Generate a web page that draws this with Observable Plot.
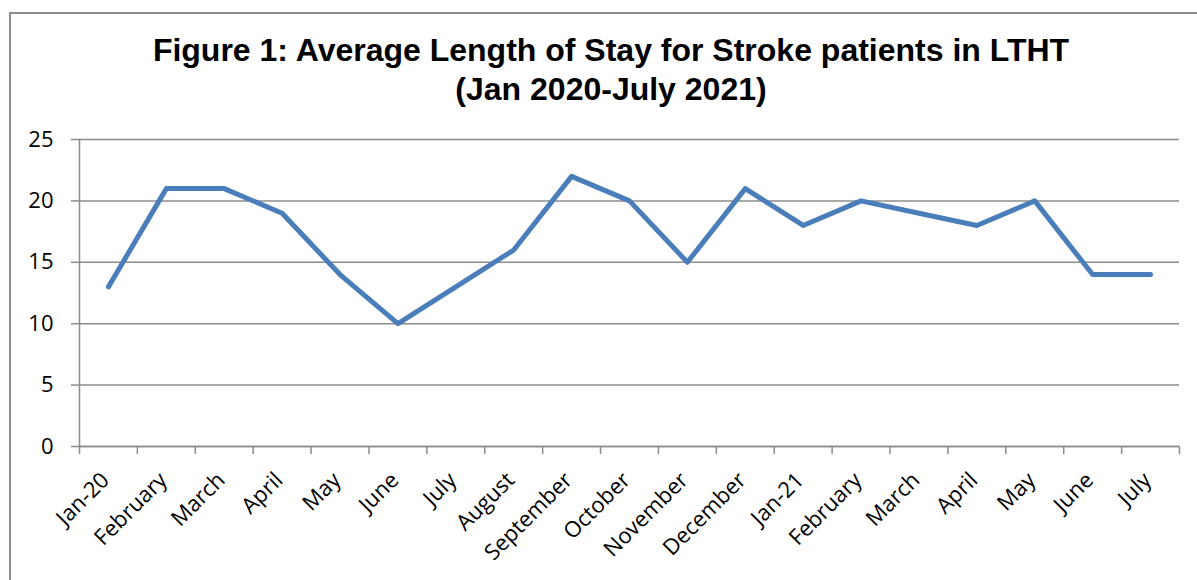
<!DOCTYPE html>
<html>
<head>
<meta charset="utf-8">
<script src="https://cdn.jsdelivr.net/npm/d3@7"></script>
<script src="https://cdn.jsdelivr.net/npm/@observablehq/plot@0.6"></script>
<style>
  html, body { margin: 0; padding: 0; background: #fff; overflow: hidden; }
  #wrap { position: relative; width: 1197px; height: 580px; overflow: hidden; }
  #frame { position: absolute; left: 9px; top: 12px; width: 1400px; height: 800px; border: 2px solid #8c8c8c; box-sizing: border-box; }
  #title { position: absolute; left: 0; top: 31px; width: 1222px; text-align: center; font-family: "Liberation Sans", Arial, sans-serif; font-weight: bold; font-size: 32px; line-height: 39px; color: #000; }
  #chart { position: absolute; left: 0; top: 120px; }
</style>
</head>
<body>
<div id="wrap">
  <div id="frame"></div>
  <div id="title">Figure 1: Average Length of Stay for Stroke patients in LTHT<br>(Jan 2020-July 2021)</div>
  <div id="chart"></div>
</div>
<script>
const months = ["Jan-20","February","March","April","May","June","July","August","September","October","November","December","Jan-21","February","March","April","May","June","July"];
const stay = [13,21,21,19,14,10,13,16,22,20,15,21,18,20,19,18,20,14,14];
const yTicks = [0,5,10,15,20,25];

const data = months.map((m, i) => ({i, m, v: stay[i]}));
const idx = months.map((m, i) => i);
const bounds = [...idx.map(i => i - 0.5), months.length - 0.5];

const plot = Plot.plot({
  width: 1197,
  height: 460,
  marginLeft: 79,
  marginRight: 18,
  marginTop: 19,
  marginBottom: 134,
  style: {fontFamily: "'Open Sans', sans-serif", fontSize: "22px", color: "#000", background: "transparent"},
  x: {type: "linear", domain: [-0.5, months.length - 0.5], axis: null, label: null},
  y: {domain: [0, 25], axis: null, label: null},
  marks: [
    Plot.gridY(yTicks, {stroke: "#8c8c8c", strokeOpacity: 1, strokeWidth: 1.5}),
    Plot.axisY(yTicks, {label: null, tickSize: 8, tickPadding: 18, stroke: "#8c8c8c", strokeWidth: 1.5, fill: "#000", fontSize: 22}),
    Plot.ruleX([-0.5], {y1: 0, y2: 25, stroke: "#8c8c8c", strokeWidth: 1.5}),
    Plot.axisX(bounds, {label: null, tickSize: 8, tickFormat: () => "", stroke: "#8c8c8c", strokeWidth: 1.5}),
    Plot.axisX(idx, {label: null, tickSize: 0, tickPadding: 30, dx: -3, tickRotate: -45, tickFormat: i => months[i], fill: "#000", fontSize: 22}),
    Plot.ruleY([0], {stroke: "#8c8c8c", strokeWidth: 1.5}),
    Plot.line(data, {x: "i", y: "v", stroke: "#4a7ebb", strokeWidth: 5, strokeLinejoin: "round", strokeLinecap: "round"})
  ]
});
document.getElementById("chart").appendChild(plot);
</script>
</body>
</html>
